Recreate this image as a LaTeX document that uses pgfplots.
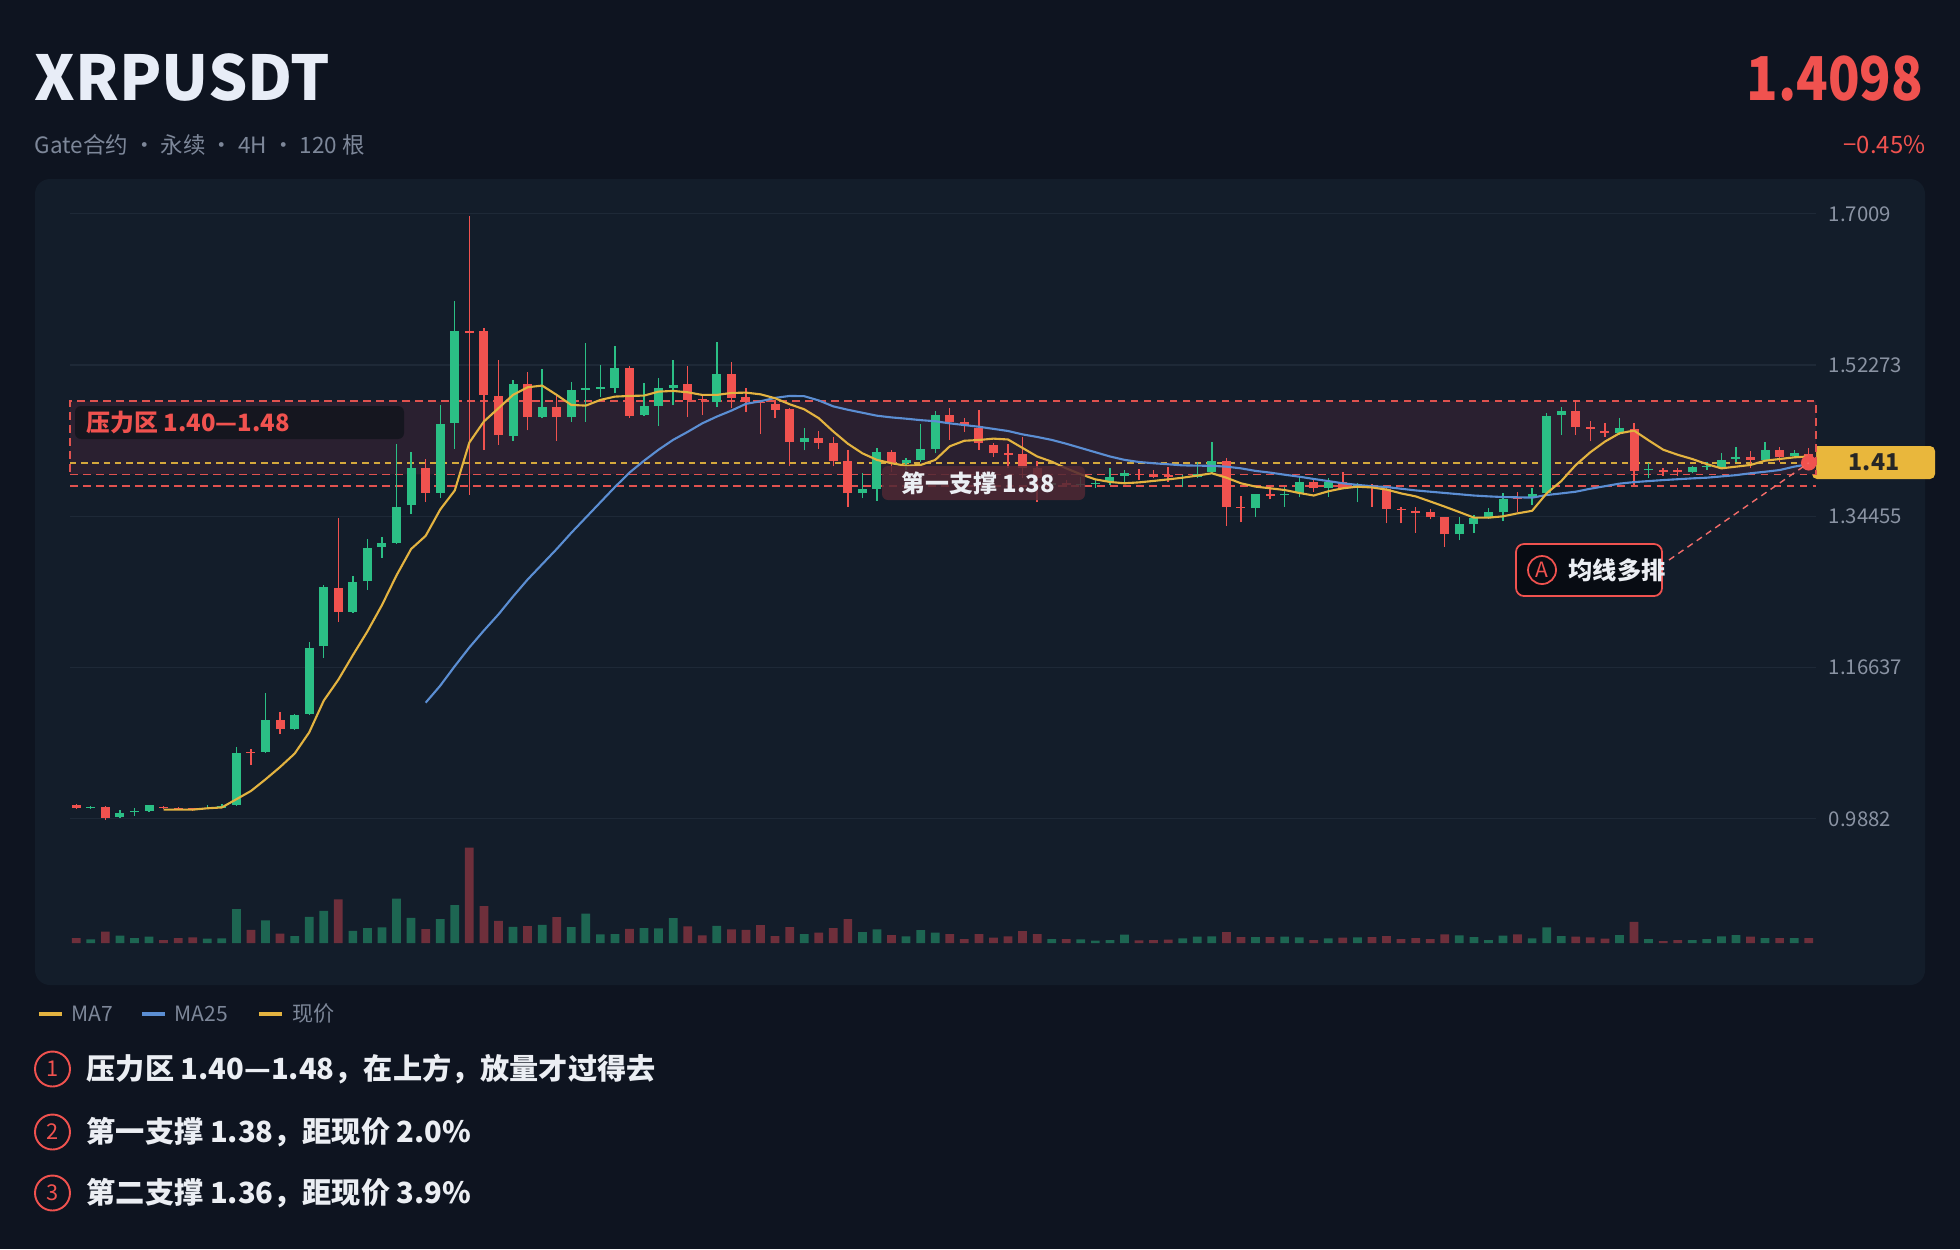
\documentclass[border=0pt]{standalone}
\usepackage{pgfplots}
\pgfplotsset{compat=1.18}
\usepackage{pgfplotstable}
\usepackage{fontspec}
\setmainfont{Noto Sans CJK SC}
\newcommand\fs[1]{\fontsize{#1}{#1}\selectfont}
\definecolor{bg}{HTML}{0E1420}
\definecolor{panel}{HTML}{131D2A}
\definecolor{gridc}{HTML}{1E2937}
\definecolor{tickc}{HTML}{8A93A3}
\definecolor{subc}{HTML}{7D8799}
\definecolor{cred}{HTML}{F0524F}
\definecolor{cgreen}{HTML}{2BBF85}
\definecolor{volg}{HTML}{1D6652}
\definecolor{volr}{HTML}{6E2F3B}
\definecolor{ma7}{HTML}{E3B340}
\definecolor{ma25}{HTML}{5B8ED3}
\definecolor{zonefill}{HTML}{2A2030}
\definecolor{zoneline}{HTML}{E0524F}
\definecolor{priceline}{HTML}{D4A83C}
\definecolor{lab}{HTML}{E9B73C}
\definecolor{txt}{HTML}{EBEEF3}
\definecolor{titlec}{HTML}{E8EDF7}
\definecolor{labbox}{HTML}{14161E}

\pgfplotstableread{
i o h l c
1 1.0010 1.0030 0.9995 1.0020
3 0.9905 0.9991 0.9895 0.9953
4 0.9960 1.0010 0.9920 0.9975
5 0.9977 1.0045 0.9965 1.0040
9 1.0000 1.0040 0.9995 1.0015
10 1.0015 1.0060 1.0005 1.0030
11 1.0050 1.0731 1.0036 1.0659
13 1.0670 1.1359 1.0660 1.1047
15 1.0937 1.1120 1.0930 1.1105
16 1.1120 1.1960 1.1110 1.1897
17 1.1912 1.2641 1.1777 1.2607
19 1.2320 1.2737 1.2305 1.2670
20 1.2680 1.3179 1.2583 1.3073
21 1.3083 1.3207 1.2958 1.3135
22 1.3135 1.4297 1.3120 1.3558
23 1.3577 1.4206 1.3471 1.4014
25 1.3725 1.4753 1.3663 1.4528
26 1.4547 1.5982 1.4240 1.5631
30 1.4393 1.5051 1.4334 1.5000
32 1.4612 1.5180 1.4600 1.4730
34 1.4612 1.5031 1.4561 1.4930
35 1.4930 1.5490 1.4561 1.4961
36 1.4945 1.5227 1.4855 1.4968
37 1.4961 1.5450 1.4894 1.5188
39 1.4640 1.5020 1.4630 1.4746
40 1.4746 1.5070 1.4511 1.4953
41 1.4961 1.5286 1.4757 1.4992
44 1.4792 1.5493 1.4730 1.5118
50 1.4326 1.4491 1.4221 1.4373
54 1.3716 1.3952 1.3657 1.3763
55 1.3767 1.4254 1.3630 1.4207
57 1.4070 1.4128 1.3991 1.4109
58 1.4109 1.4529 1.4089 1.4235
59 1.4235 1.4690 1.4187 1.4639
67 1.3815 1.3893 1.3736 1.3834
69 1.3815 1.3913 1.3795 1.3830
70 1.3825 1.3873 1.3775 1.3840
71 1.3854 1.4011 1.3815 1.3913
72 1.3920 1.3991 1.3854 1.3952
76 1.3893 1.3932 1.3795 1.3913
77 1.3913 1.4089 1.3893 1.3944
78 1.3963 1.4317 1.3952 1.4097
81 1.3539 1.3704 1.3441 1.3704
83 1.3692 1.3794 1.3559 1.3706
84 1.3716 1.3924 1.3669 1.3853
86 1.3783 1.3893 1.3677 1.3846
88 1.3800 1.3834 1.3610 1.3815
95 1.3233 1.3441 1.3166 1.3351
96 1.3351 1.3461 1.3252 1.3421
97 1.3421 1.3539 1.3413 1.3492
98 1.3492 1.3724 1.3390 1.3645
100 1.3657 1.3775 1.3578 1.3708
101 1.3716 1.4658 1.3696 1.4631
102 1.4639 1.4737 1.4403 1.4690
106 1.4423 1.4607 1.4403 1.4482
108 1.3990 1.4069 1.3893 1.4005
111 1.3971 1.4042 1.3952 1.4030
112 1.4022 1.4089 1.3990 1.4035
113 1.4030 1.4187 1.4010 1.4109
114 1.4120 1.4266 1.4089 1.4148
116 1.4109 1.4317 1.4100 1.4227
118 1.4156 1.4227 1.4148 1.4187
}\greentab

\pgfplotstableread{
i o h l c
0 1.0050 1.0055 0.9995 1.0010
2 1.0025 1.0030 0.9871 0.9895
6 1.0022 1.0035 1.0000 1.0010
7 1.0012 1.0020 0.9995 1.0000
8 1.0007 1.0012 0.9980 0.9995
12 1.0672 1.0710 1.0520 1.0660
14 1.1047 1.1144 1.0880 1.0937
18 1.2598 1.3421 1.2200 1.2320
24 1.4014 1.4120 1.3615 1.3720
27 1.5625 1.6980 1.3700 1.5610
28 1.5631 1.5658 1.4229 1.4875
29 1.4867 1.5282 1.4288 1.4397
31 1.5000 1.5141 1.4456 1.4612
33 1.4730 1.4875 1.4338 1.4612
38 1.5188 1.5216 1.4608 1.4632
42 1.5000 1.5216 1.4612 1.4816
43 1.4825 1.4875 1.4640 1.4810
45 1.5118 1.5266 1.4718 1.4844
46 1.4848 1.4953 1.4679 1.4788
47 1.4795 1.4816 1.4417 1.4780
48 1.4765 1.4816 1.4600 1.4698
49 1.4706 1.4718 1.4033 1.4326
51 1.4373 1.4452 1.4240 1.4314
52 1.4314 1.4385 1.4033 1.4099
53 1.4101 1.4227 1.3559 1.3716
56 1.4207 1.4227 1.3971 1.4070
60 1.4639 1.4725 1.4344 1.4553
61 1.4560 1.4600 1.4443 1.4521
62 1.4482 1.4698 1.4227 1.4313
63 1.4286 1.4305 1.4148 1.4187
64 1.4185 1.4293 1.4011 1.4170
65 1.4175 1.4376 1.3893 1.4019
66 1.4011 1.4097 1.3618 1.3893
68 1.3834 1.3870 1.3795 1.3815
73 1.3947 1.4003 1.3873 1.3932
74 1.3944 1.3991 1.3893 1.3913
75 1.3927 1.4023 1.3854 1.3912
79 1.4097 1.4128 1.3335 1.3559
80 1.3559 1.3684 1.3374 1.3545
82 1.3704 1.3806 1.3645 1.3690
85 1.3853 1.3873 1.3735 1.3783
87 1.3846 1.3963 1.3775 1.3783
89 1.3815 1.3822 1.3559 1.3800
90 1.3767 1.3794 1.3362 1.3531
91 1.3533 1.3559 1.3362 1.3518
92 1.3505 1.3559 1.3252 1.3490
93 1.3500 1.3527 1.3410 1.3433
94 1.3441 1.3441 1.3088 1.3233
99 1.3668 1.3735 1.3500 1.3653
103 1.4690 1.4815 1.4403 1.4501
104 1.4495 1.4568 1.4333 1.4475
105 1.4450 1.4541 1.4384 1.4425
107 1.4474 1.4541 1.3814 1.3979
109 1.3987 1.4010 1.3924 1.3972
110 1.3987 1.4010 1.3924 1.3972
115 1.4140 1.4215 1.4010 1.4109
117 1.4227 1.4266 1.4081 1.4148
119 1.4175 1.4246 1.4080 1.4098
}\redtab

\pgfplotstableread{
i v
6 0.9991
7 0.9990
8 0.9990
9 1.0006
10 1.0016
11 1.0113
12 1.0210
13 1.0347
14 1.0492
15 1.0650
16 1.0900
17 1.1274
18 1.1520
19 1.1810
20 1.2090
21 1.2400
22 1.2750
23 1.3060
24 1.3215
25 1.3525
26 1.3750
27 1.4314
28 1.4562
29 1.4718
30 1.4875
31 1.4965
32 1.4985
33 1.4875
34 1.4757
35 1.4749
36 1.4816
37 1.4855
38 1.4863
39 1.4867
40 1.4914
41 1.4922
42 1.4906
43 1.4875
44 1.4875
45 1.4898
46 1.4902
47 1.4882
48 1.4836
49 1.4765
50 1.4706
51 1.4601
52 1.4444
53 1.4300
54 1.4187
55 1.4109
56 1.4070
57 1.4040
58 1.4050
59 1.4109
60 1.4270
61 1.4335
62 1.4344
63 1.4360
64 1.4350
65 1.4250
66 1.4150
67 1.4089
68 1.4010
69 1.3940
70 1.3880
71 1.3850
72 1.3834
73 1.3845
74 1.3862
75 1.3880
76 1.3900
77 1.3925
78 1.3952
79 1.3900
80 1.3834
81 1.3795
82 1.3775
83 1.3755
84 1.3720
85 1.3690
86 1.3740
87 1.3775
88 1.3794
89 1.3785
90 1.3760
91 1.3715
92 1.3680
93 1.3620
94 1.3559
95 1.3495
96 1.3430
97 1.3429
98 1.3445
99 1.3480
100 1.3510
101 1.3716
102 1.3860
103 1.4050
104 1.4200
105 1.4325
106 1.4423
107 1.4455
108 1.4340
109 1.4230
110 1.4170
111 1.4120
112 1.4060
113 1.4010
114 1.4030
115 1.4050
116 1.4100
117 1.4120
118 1.4140
119 1.4150
}\matab

\pgfplotstableread{
i v
24 1.1250
25 1.1450
26 1.1680
27 1.1900
28 1.2100
29 1.2290
30 1.2500
31 1.2700
32 1.2880
33 1.3060
34 1.3250
35 1.3430
36 1.3610
37 1.3790
38 1.3960
39 1.4100
40 1.4230
41 1.4346
42 1.4440
43 1.4540
44 1.4620
45 1.4690
46 1.4770
47 1.4800
48 1.4840
49 1.4863
50 1.4860
51 1.4810
52 1.4740
53 1.4700
54 1.4665
55 1.4630
56 1.4610
57 1.4595
58 1.4578
59 1.4565
60 1.4540
61 1.4520
62 1.4500
63 1.4475
64 1.4450
65 1.4410
66 1.4380
67 1.4345
68 1.4300
69 1.4250
70 1.4200
71 1.4150
72 1.4110
73 1.4085
74 1.4070
75 1.4058
76 1.4045
77 1.4042
78 1.4040
79 1.4030
80 1.4010
81 1.3980
82 1.3960
83 1.3935
84 1.3912
85 1.3885
86 1.3860
87 1.3834
88 1.3815
89 1.3800
90 1.3790
91 1.3770
92 1.3750
93 1.3735
94 1.3720
95 1.3705
96 1.3690
97 1.3680
98 1.3672
99 1.3669
100 1.3665
101 1.3696
102 1.3715
103 1.3735
104 1.3770
105 1.3800
106 1.3830
107 1.3848
108 1.3860
109 1.3872
110 1.3882
111 1.3892
112 1.3900
113 1.3915
114 1.3930
115 1.3952
116 1.3970
117 1.3990
118 1.4030
119 1.4060
}\mbtab

\pgfplotsset{candle/.style={only marks, mark=*, mark size=0pt,
  mark options={draw opacity=0, fill opacity=0}, forget plot,
  error bars/y dir=plus, error bars/y explicit, error bars/error mark=none}}

\begin{document}
\begin{tikzpicture}
\useasboundingbox (0,0) rectangle (19.6,-12.49);
\fill[bg] (0,0) rectangle (19.6,-12.49);
% header
\node[anchor=base west, inner sep=0, text=titlec, font=\bfseries\fs{17.6}] at (0.34,-1.00) {XRPUSDT};
\node[anchor=base east, inner sep=0, text=cred, font=\bfseries\fs{17.2}] at (19.24,-1.00) {\scalebox{0.86}[1]{1.4098}};
\node[anchor=base west, inner sep=0, text=subc, font=\fs{6.4}] at (0.34,-1.53) {Gate合约 · 永续 · 4H · 120 根};
\node[anchor=base east, inner sep=0, text=cred, font=\fs{6.8}] at (19.26,-1.53) {−0.45\%};
% panel
\fill[panel, rounded corners=0.15cm] (0.35,-1.79) rectangle (19.25,-9.85);
% current price label
\fill[lab, rounded corners=0.05cm] (18.12,-4.46) rectangle (19.35,-4.79);
\node[text=black!85, font=\bfseries\fs{6.6}] at (18.74,-4.625) {1.41};

% volume axis
\begin{axis}[at={(0.70cm,-9.43cm)}, anchor=south west, width=17.46cm, height=0.955cm,
  scale only axis, xmin=-0.43, xmax=119.5, ymin=0, ymax=288, hide axis,
  ybar, bar width=0.6, bar shift=0pt]
\addplot[fill=volg, draw=none] coordinates {(1,11) (3,22) (4,15) (5,19) (9,13) (10,14) (11,102) (13,68) (15,21) (16,79) (17,97) (19,37) (20,45) (21,47) (22,134) (23,76) (25,72) (26,114) (30,49) (32,55) (34,48) (35,89) (36,26) (37,27) (39,45) (40,44) (41,75) (44,52) (50,27) (54,33) (55,41) (57,20) (58,39) (59,31) (67,12) (69,11) (70,7) (71,9) (72,25) (76,14) (77,19) (78,20) (81,18) (83,19) (84,17) (86,14) (88,17) (95,23) (96,18) (97,9) (98,22) (100,14) (101,47) (102,21) (106,24) (108,12) (111,9) (112,12) (113,20) (114,24) (116,15) (118,15)};
\addplot[fill=volr, draw=none] coordinates {(0,15) (2,34) (6,9) (7,15) (8,17) (12,40) (14,28) (18,132) (24,42) (27,288) (28,111) (29,67) (31,51) (33,78) (38,43) (42,50) (43,23) (45,41) (46,40) (47,54) (48,21) (49,48) (51,31) (52,45) (53,72) (56,24) (60,27) (61,12) (62,27) (63,16) (64,20) (65,36) (66,27) (68,12) (73,8) (74,9) (75,10) (79,33) (80,18) (82,18) (85,9) (87,16) (89,18) (90,21) (91,12) (92,15) (93,12) (94,26) (99,26) (103,19) (104,17) (105,13) (107,64) (109,6) (110,9) (115,19) (117,15) (119,15)};
\end{axis}

% price axis
\begin{axis}[at={(0.70cm,-2.06cm)}, anchor=north west, width=17.46cm, height=6.24cm,
  scale only axis, xmin=-0.43, xmax=119.5, ymin=0.975, ymax=1.71, clip=false,
  axis line style={draw=none}, xtick=\empty, major tick length=0pt,
  ytick={0.9882,1.16637,1.34455,1.52273,1.7009},
  yticklabels={0.9882,1.16637,1.34455,1.52273,1.7009},
  yticklabel pos=right,
  yticklabel style={font=\fs{5.8}, text=tickc, anchor=west, inner sep=0pt, xshift=0.12cm},
  ymajorgrids, grid style={draw=gridc, line width=0.35pt}]
% resistance zone
\addplot[fill=zonefill, draw=zoneline, line width=0.45pt, dash pattern=on 2.2pt off 1.5pt] coordinates {(-0.43,1.394) (119.5,1.394) (119.5,1.48) (-0.43,1.48) (-0.43,1.394)};
\addplot[draw=zoneline, line width=0.45pt, dash pattern=on 2.2pt off 1.5pt] coordinates {(-0.43,1.38) (119.5,1.38)};
\addplot[draw=priceline, line width=0.4pt, dash pattern=on 1.8pt off 1.4pt] coordinates {(-0.43,1.4075) (119.5,1.4075)};
% wicks
\addplot[candle, error bars/error bar style={draw=cgreen, line width=0.38pt}]
  table[x=i, y=l, y error expr=\thisrow{h}-\thisrow{l}] {\greentab};
\addplot[candle, error bars/error bar style={draw=cred, line width=0.38pt}]
  table[x=i, y=l, y error expr=\thisrow{h}-\thisrow{l}] {\redtab};
% bodies
\addplot[candle, error bars/error bar style={draw=cgreen, line width=0.09cm}]
  table[x=i, y=o, y error expr=\thisrow{c}-\thisrow{o}] {\greentab};
\addplot[candle, error bars/error bar style={draw=cred, line width=0.09cm}]
  table[x=i, y=c, y error expr=\thisrow{o}-\thisrow{c}] {\redtab};
% moving averages
\addplot[draw=ma25, line width=0.6pt, line join=round] table[x=i, y=v] {\mbtab};
\addplot[draw=ma7, line width=0.6pt, line join=round] table[x=i, y=v] {\matab};
% last price dot
\addplot[only marks, mark=*, mark size=2pt, color=cred] coordinates {(119,1.4075)};
\coordinate (dot) at (axis cs:119,1.4075);
\end{axis}

% zone label
\fill[labbox, opacity=0.92, rounded corners=0.06cm] (0.75,-4.06) rectangle (4.04,-4.39);
\node[anchor=west, inner sep=0, text=cred, font=\bfseries\fs{6.8}] at (0.86,-4.225) {压力区 1.40—1.48};
% support label
\fill[fill={rgb,255:red,80;green,40;blue,52}, opacity=0.85, rounded corners=0.06cm] (8.82,-4.66) rectangle (10.85,-5.00);
\node[text=txt, inner sep=0, font=\bfseries\fs{6.8}] at (9.78,-4.83) {第一支撑 1.38};
% annotation
\draw[cred!85, line width=0.4pt, dash pattern=on 1.8pt off 1.4pt] (16.69,-5.60) -- (dot);
\filldraw[fill=black!40!bg, draw=cred, line width=0.5pt, rounded corners=0.08cm] (15.16,-5.44) rectangle (16.62,-5.96);
\draw[cred, line width=0.5pt] (15.42,-5.70) circle (0.14);
\node[text=cred, font=\fs{6}] at (15.42,-5.70) {A};
\node[anchor=west, inner sep=0, text=txt, font=\bfseries\fs{6.9}] at (15.68,-5.70) {均线多排};
% legend
\draw[ma7, line width=1pt] (0.39,-10.14) -- (0.62,-10.14);
\node[anchor=west, inner sep=0, text=subc, font=\fs{6}] at (0.71,-10.14) {MA7};
\draw[ma25, line width=1pt] (1.42,-10.14) -- (1.65,-10.14);
\node[anchor=west, inner sep=0, text=subc, font=\fs{6}] at (1.74,-10.14) {MA25};
\draw[ma7, line width=1pt] (2.59,-10.14) -- (2.82,-10.14);
\node[anchor=west, inner sep=0, text=subc, font=\fs{6}] at (2.92,-10.14) {现价};
% bullets
\foreach \yy/\nn/\tt in {-10.69/1/{压力区 1.40—1.48，在上方，放量才过得去}, -11.32/2/{第一支撑 1.38，距现价 2.0\%}, -11.93/3/{第二支撑 1.36，距现价 3.9\%}}{
  \draw[cred, line width=0.55pt] (0.525,\yy) circle (0.175);
  \node[text=cred, font=\fs{6.2}] at (0.525,\yy) {\nn};
  \node[anchor=west, inner sep=0, text=txt, font=\bfseries\fs{8.3}] at (0.86,\yy) {\tt};
}
\end{tikzpicture}
\end{document}
